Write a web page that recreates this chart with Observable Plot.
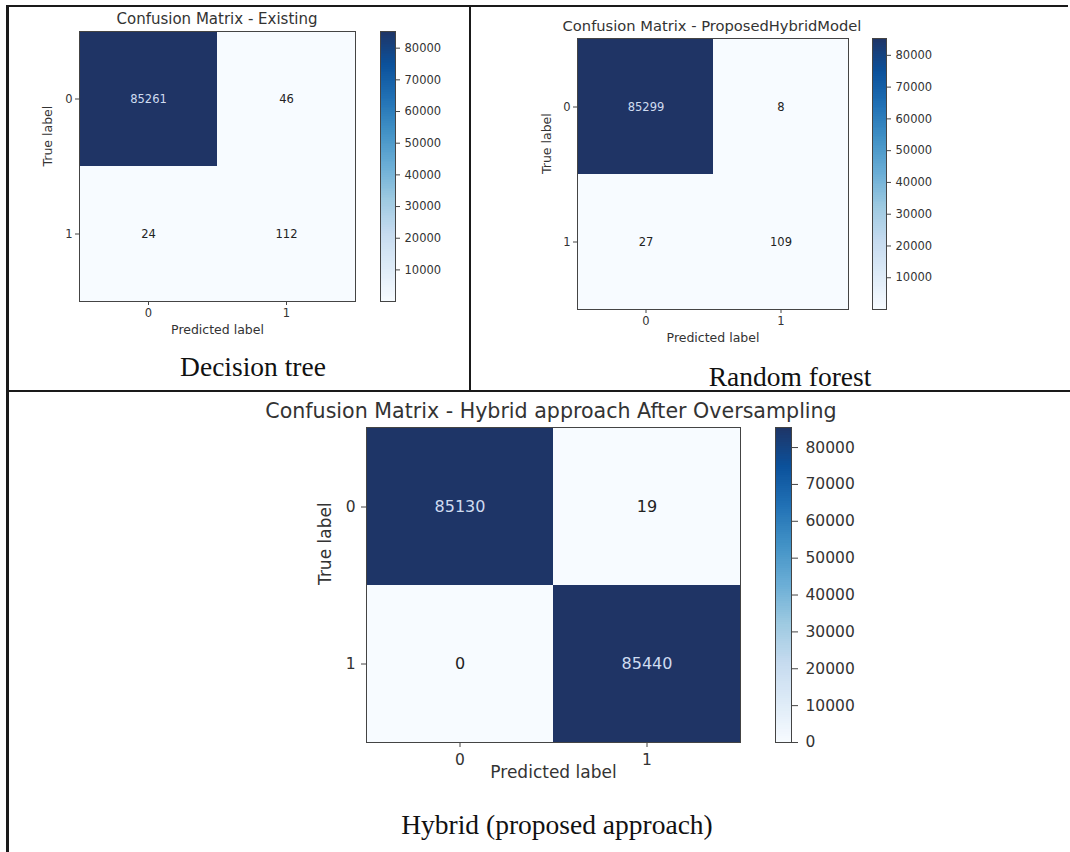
<!DOCTYPE html>
<html><head><meta charset="utf-8">
<script src="https://cdn.jsdelivr.net/npm/d3@7"></script>
<script src="https://cdn.jsdelivr.net/npm/@observablehq/plot@0.6"></script>
<style>
body{margin:0;background:#fff;width:1070px;height:852px;position:relative;overflow:hidden;font-family:"DejaVu Sans",sans-serif;}
.abs{position:absolute;}
.line{position:absolute;background:#1a1a1a;}
.title{position:absolute;white-space:nowrap;color:#333;transform:translate(-50%,-50%);font-family:"DejaVu Sans",sans-serif;}
.cap{position:absolute;white-space:nowrap;font-family:"Liberation Serif","Times New Roman",serif;color:#111;transform:translate(-50%,-50%);}
</style></head><body>
<script>
// ---------- data ----------
const classLabels = ["0", "1"];
const decisionTreeValues = [85261, 46, 24, 112];
const randomForestValues = [85299, 8, 27, 109];
const hybridValues = [85130, 19, 0, 85440];
const panelTitles = [
  "Confusion Matrix - Existing",
  "Confusion Matrix - ProposedHybridModel",
  "Confusion Matrix - Hybrid approach After Oversampling"
];
const panelCaptions = ["Decision tree", "Random forest", "Hybrid (proposed approach)"];
const xAxisLabel = "Predicted label";
const yAxisLabel = "True label";
const colorbarTicksTop = [10000, 20000, 30000, 40000, 50000, 60000, 70000, 80000];
const colorbarTicksBottom = [0, 10000, 20000, 30000, 40000, 50000, 60000, 70000, 80000];
const bluesStops = ["#f7fbff","#deebf7","#c6dbef","#9ecae1","#6baed6","#4292c6","#2171b5","#0b519b","#1f3465"];

// ---------- layout ----------
const layouts = [
  {values: decisionTreeValues, ticks: colorbarTicksTop, fx:79, fy:31, fw:276, fh:270, font:11.5, num:11.5, lab:12.5,
   tS:4, tP:3, cbx:380, cbw:15, cbS:4, cbP:5, xDy:32, yDx:-32, tx:217, ty:19, tSize:15, cx:253, cy:367, cSize:27.5},
  {values: randomForestValues, ticks: colorbarTicksTop, fx:577, fy:38, fw:271, fh:271, font:11.5, num:11.5, lab:12.5,
   tS:4, tP:3, cbx:872, cbw:14, cbS:4, cbP:5, xDy:32, yDx:-31, tx:712, ty:25, tSize:14.7, cx:790, cy:377, cSize:27.5},
  {values: hybridValues, ticks: colorbarTicksBottom, fx:366, fy:427, fw:374, fh:315, font:15.5, num:16, lab:17,
   tS:5, tP:6, cbx:775, cbw:16, cbS:6, cbP:8, xDy:35, yDx:-41, tx:551, ty:411, tSize:20.6, cx:557, cy:825, cSize:27.5}
];

const tableLines = [
  {l:6, t:5, w:3, h:847},
  {l:7, t:5, w:1061, h:2},
  {l:469, t:6, w:2, h:386},
  {l:7, t:390, w:1063, h:2}
];
for (const s of tableLines) {
  const d = document.createElement("div");
  d.className = "line";
  Object.assign(d.style, {left: s.l+"px", top: s.t+"px", width: s.w+"px", height: s.h+"px"});
  document.body.appendChild(d);
}

function place(node, left, top) {
  const w = document.createElement("div");
  w.className = "abs";
  w.style.left = left + "px";
  w.style.top = top + "px";
  w.appendChild(node);
  document.body.appendChild(w);
}

layouts.forEach((L, k) => {
  const cells = classLabels.flatMap((t, i) => classLabels.map((p, j) => ({t, p, v: L.values[i * 2 + j]})));
  const lo = d3.min(L.values), hi = d3.max(L.values);
  const colorOpts = {
    type: "linear",
    domain: bluesStops.map((_, i) => lo + (hi - lo) * i / (bluesStops.length - 1)),
    range: bluesStops
  };
  const mid = (lo + hi) / 2;
  const mL = 60, mR = 4, mT = 2, mB = 50;
  const style = {fontFamily: "DejaVu Sans", fontSize: L.font + "px", color: "#333", background: "transparent", overflow: "visible"};

  const matrix = Plot.plot({
    width: mL + L.fw + mR, height: mT + L.fh + mB,
    marginLeft: mL, marginRight: mR, marginTop: mT, marginBottom: mB,
    x: {domain: classLabels, padding: 0, label: null},
    y: {domain: classLabels, padding: 0, label: null},
    color: colorOpts,
    style,
    marks: [
      Plot.cell(cells, {x: "p", y: "t", fill: "v"}),
      Plot.text(cells.filter(d => d.v > mid), {x: "p", y: "t", text: d => String(d.v), fill: "#cfdcf0", fontSize: L.num}),
      Plot.text(cells.filter(d => d.v <= mid), {x: "p", y: "t", text: d => String(d.v), fill: "#222", fontSize: L.num}),
      Plot.frame({stroke: "#444"}),
      Plot.axisX({tickSize: L.tS, tickPadding: L.tP, label: null, stroke: "#444", fill: "#333"}),
      Plot.axisY({tickSize: L.tS, tickPadding: L.tP, label: null, stroke: "#444", fill: "#333"}),
      Plot.text([xAxisLabel], {text: d => d, frameAnchor: "bottom", dy: L.xDy, fill: "#333", fontSize: L.lab}),
      Plot.text([yAxisLabel], {text: d => d, frameAnchor: "left", dx: L.yDx, rotate: -90, fill: "#333", fontSize: L.lab})
    ]
  });
  place(matrix, L.fx - mL, L.fy - mT);

  const n = 150;
  const bands = d3.range(n).map(i => ({a: lo + (hi - lo) * i / n, b: lo + (hi - lo) * (i + 1) / n}));
  const cbR = 70;
  const bar = Plot.plot({
    width: L.cbw + cbR, height: mT + L.fh + mB,
    marginLeft: 0, marginRight: cbR, marginTop: mT, marginBottom: mB,
    x: {domain: [0, 1], axis: null},
    y: {domain: [lo, hi], axis: null},
    color: colorOpts,
    style,
    marks: [
      Plot.rect(bands, {x1: 0, x2: 1, y1: "a", y2: "b", fill: d => (d.a + d.b) / 2, shapeRendering: "crispEdges"}),
      Plot.frame({stroke: "#444"}),
      Plot.axisY({anchor: "right", ticks: L.ticks, tickFormat: d3.format("d"), tickSize: L.cbS, tickPadding: L.cbP, label: null, stroke: "#444", fill: "#333"})
    ]
  });
  place(bar, L.cbx, L.fy - mT);

  const t = document.createElement("div");
  t.className = "title";
  t.textContent = panelTitles[k];
  Object.assign(t.style, {left: L.tx + "px", top: L.ty + "px", fontSize: L.tSize + "px"});
  document.body.appendChild(t);

  const c = document.createElement("div");
  c.className = "cap";
  c.textContent = panelCaptions[k];
  Object.assign(c.style, {left: L.cx + "px", top: L.cy + "px", fontSize: L.cSize + "px"});
  document.body.appendChild(c);
});
</script>
</body></html>
